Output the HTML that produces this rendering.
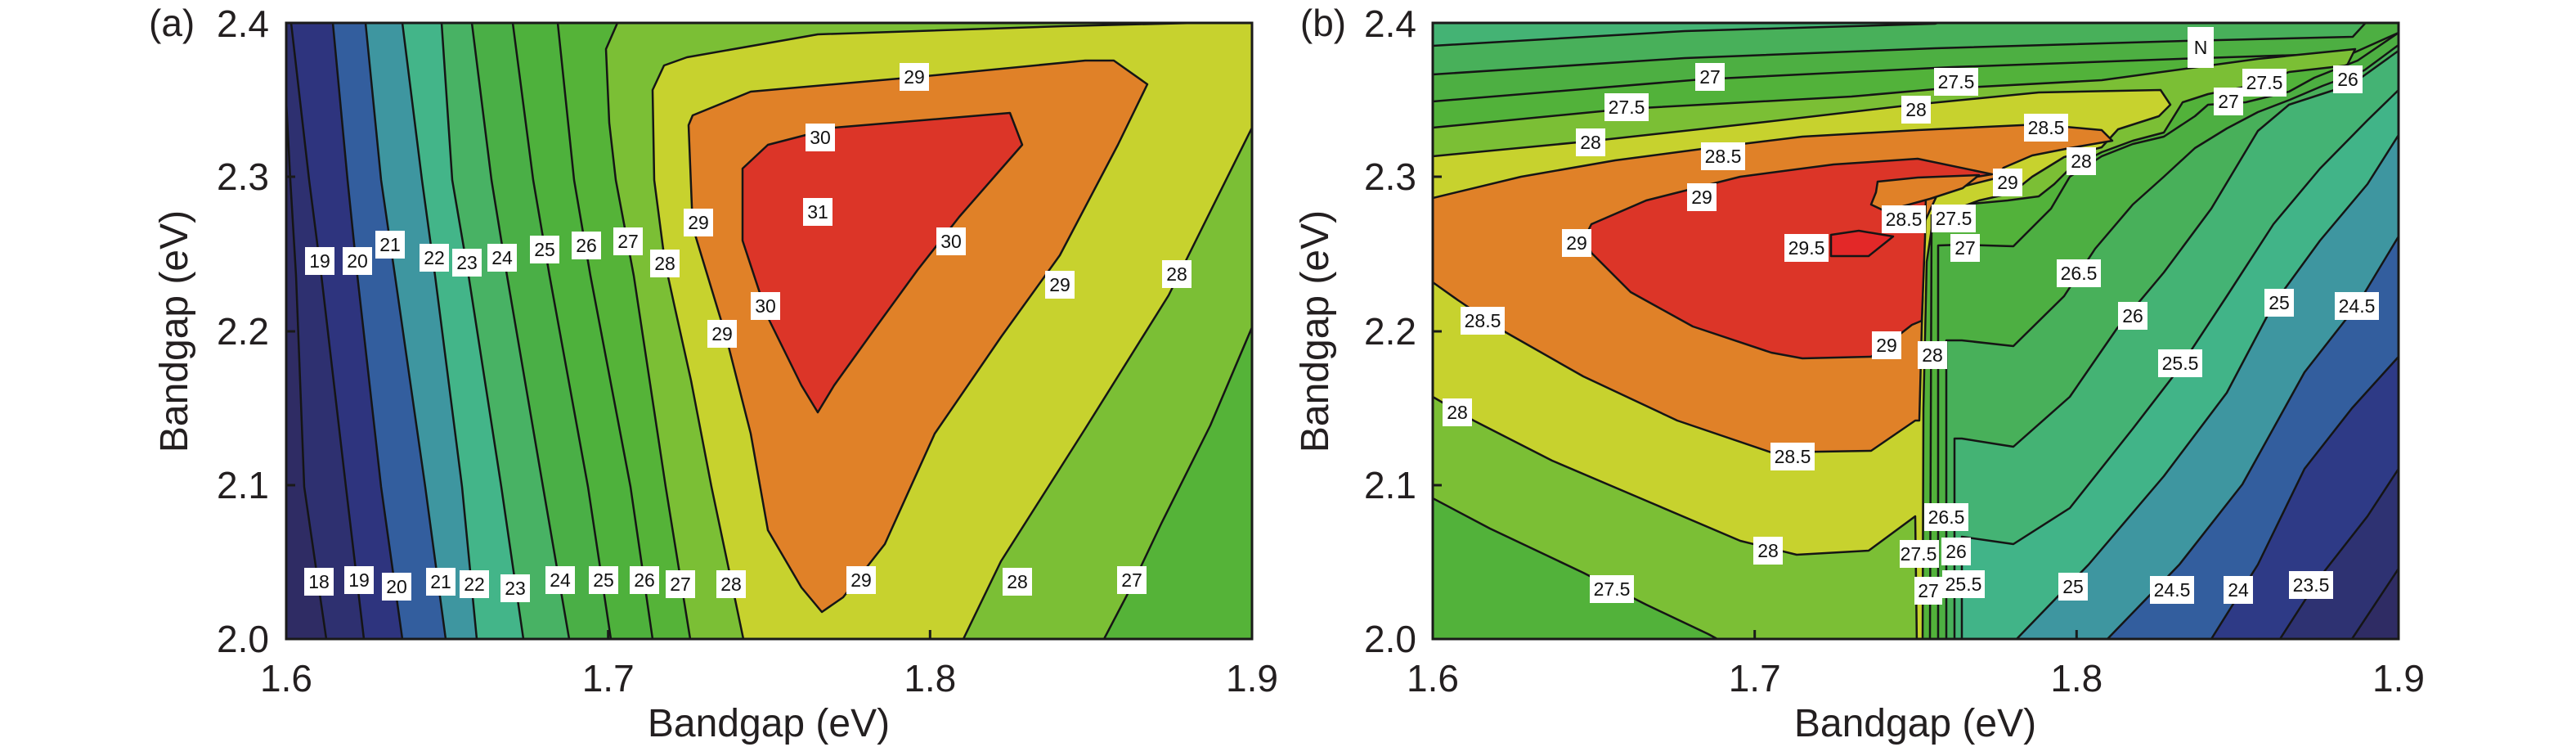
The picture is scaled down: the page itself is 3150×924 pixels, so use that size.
<!DOCTYPE html>
<html><head><meta charset="utf-8"><style>
html,body{margin:0;padding:0;background:#fff;}
svg{display:block;}
.t{font-family:"Liberation Sans",sans-serif;fill:#231f20;}
.lb rect{fill:#fff;}
.lb text{font-family:"Liberation Sans",sans-serif;font-size:23px;fill:#111;text-anchor:middle;}
.c{stroke:#151515;stroke-width:2.5;stroke-linejoin:round;}
</style></head><body>
<svg width="3150" height="924" viewBox="0 0 3150 924" xmlns="http://www.w3.org/2000/svg">
<defs>
<clipPath id="ca"><rect x="350" y="28" width="1181" height="753"/></clipPath>
<clipPath id="cb"><rect x="1752" y="28" width="1181" height="753"/></clipPath>
</defs>
<rect width="3150" height="924" fill="#fff"/>

<g clip-path="url(#ca)">
<rect x="350" y="28" width="1181" height="753" fill="#7bbf35"/>
<polygon class="c" fill="#55b338" points="340,28 755,28 741,60 745,150 753,220 775,337 814,595 844,781 340,781"/>
<polygon class="c" fill="#4eb13c" points="340,28 682,28 702,220 722,337 771,595 798,781 340,781"/>
<polygon class="c" fill="#4aaf46" points="340,28 627,28 652,220 672,337 719,595 747,781 340,781"/>
<polygon class="c" fill="#48b264" points="340,28 577,28 601,220 620,337 664,595 696,781 340,781"/>
<polygon class="c" fill="#43b589" points="340,28 540,28 553,220 573,337 613,595 640,781 340,781"/>
<polygon class="c" fill="#3e96a0" points="340,28 492,28 516,220 532,337 565,595 583,781 340,781"/>
<polygon class="c" fill="#335e9e" points="340,28 447,28 466,220 483,337 520,595 545,781 340,781"/>
<polygon class="c" fill="#2e347e" points="340,28 407,28 425,220 437,337 466,595 492,781 340,781"/>
<polygon class="c" fill="#2e3070" points="340,28 356,28 378,220 393,337 423,595 445,781 340,781"/>
<polygon class="c" fill="#2f2c64" points="340,28 345,28 355,220 362,337 372,595 399,781 340,781"/>
<polygon class="c" fill="#55b338" points="1541,400 1531,400 1480,520 1420,640 1383,718 1350,781 1541,790"/>
<polygon class="c" fill="#c7d22e" points="909,790 909,781 890,690 870,595 845,465 825,375 813,320 800,220 798,110 812,80 840,70 1000,42 1300,32 1541,26 1541,156 1531,156 1429,361 1327,524 1224,686 1178,781 1178,790"/>
<polygon class="c" fill="#e08128" points="847,141 918,112 1122,94 1327,74 1362,74 1403,103 1367,177 1296,312 1224,412 1143,530 1082,665 1031,730 1005,748 980,718 939,648 918,530 888,412 847,277 842,153"/>
<polygon class="c" fill="#dc3528" points="908,206 939,177 1020,156 1235,138 1250,177 1173,265 1122,330 1071,400 1020,471 1000,504 980,471 939,388 908,294"/>
</g>
<rect x="350" y="28" width="1181" height="753" fill="none" stroke="#1a1a1a" stroke-width="3"/>
<g stroke="#1a1a1a" stroke-width="3">
<line x1="743.7" y1="781" x2="743.7" y2="770"/><line x1="1137.3" y1="781" x2="1137.3" y2="770"/>
<line x1="350" y1="216" x2="361" y2="216"/><line x1="350" y1="405" x2="361" y2="405"/><line x1="350" y1="593" x2="361" y2="593"/>
</g>

<g clip-path="url(#cb)">
<rect x="1752" y="28" width="1181" height="753" fill="#52b23a"/>
<polygon class="c" fill="#4daf42" points="1742,20 1742,124 1752,124 2081,97 2387,82 2693,71 2877,65 2933,40 2943,20"/>
<polygon class="c" fill="#48b05a" points="1742,20 1742,91 1752,91 2060,71 2366,59 2672,50 2877,45 2900,20"/>
<polygon class="c" fill="#44b374" points="1742,20 1742,56 1752,56 2060,38 2366,29 2400,20"/>
<polygon class="c" fill="#7bbf35" points="1742,156 1752,156 1989,133 2264,118 2366,109 2570,98 2761,72 2880,60 2870,80 2799,88 2761,103 2700,115 2669,125 2646,162 2608,172 2570,186 2531,206 2512,225 2493,240 2455,245 2401,250 2365,262 2356,290 2352,400 2348,600 2348,790 2100,790 2100,781 2089,775 2013,739 1936,700 1822,646 1752,609 1742,609"/>
<polygon class="c" fill="#c7d22e" points="1742,191 1752,191 1950,172 2150,150 2340,128 2493,113 2642,110 2654,128 2640,142 2590,158 2570,180 2524,192 2485,216 2460,236 2420,245 2385,258 2362,280 2356,320 2352,500 2351,790 2344,790 2342,631 2285,673 2197,678 2128,661 2013,612 1898,563 1802,514 1752,485 1742,485"/>
<polygon class="c" fill="#e08128" points="1742,242 1752,242 1860,216 1975,196 2089,181 2204,167 2345,159 2493,152 2570,159 2583,172 2531,181 2485,190 2450,205 2440,218 2400,228 2368,240 2354,270 2350,400 2347,514 2342,514 2288,551 2166,553 2051,514 1936,460 1841,406 1783,367 1752,345 1742,345"/>
<polygon class="c" fill="#dc3528" points="1946,274 2013,245 2128,216 2242,201 2345,194 2436,213 2380,222 2355,240 2354,290 2350,392 2338,397 2288,436 2204,438 2166,431 2070,399 1994,357 1946,309 1938,290"/>
<polygon class="c" fill="#e08128" points="2296,222 2345,217 2420,214 2400,230 2360,243 2305,258 2288,250 2294,235"/>
<polygon class="c" fill="#e32828" points="2239,287 2273,282 2315,289 2285,313 2239,313"/>
<polygon class="c" fill="#4daf42" points="2370,790 2370,300 2399,299 2462,301 2508,255 2531,216 2570,191 2608,176 2646,167 2684,142 2700,128 2746,125 2799,112 2830,95 2883,74 2933,40 2943,40 2943,790"/>
<polygon class="c" fill="#48b05a" points="2380,790 2380,416 2399,416 2462,423 2524,362 2562,304 2608,250 2646,216 2684,181 2723,157 2761,137 2800,122 2840,105 2891,86 2933,55 2943,55 2943,790"/>
<polygon class="c" fill="#44b374" points="2390,790 2390,536 2399,536 2462,546 2531,485 2589,401 2646,333 2704,255 2761,160 2799,128 2876,103 2933,62 2943,62 2943,790"/>
<polygon class="c" fill="#41b488" points="2399,790 2399,656 2462,665 2531,621 2608,524 2665,450 2723,362 2780,274 2837,206 2895,147 2933,110 2943,110 2943,790"/>
<polygon class="c" fill="#3e96a0" points="2466,790 2466,781 2554,690 2646,582 2723,480 2780,372 2837,294 2895,225 2933,165 2943,165 2943,790"/>
<polygon class="c" fill="#335e9e" points="2577,790 2577,781 2665,690 2742,592 2818,455 2883,372 2933,289 2943,289 2943,790"/>
<polygon class="c" fill="#2e3a86" points="2704,790 2704,781 2761,690 2818,573 2876,499 2933,436 2943,436 2943,790"/>
<polygon class="c" fill="#2e3272" points="2788,790 2788,781 2837,705 2895,631 2933,573 2943,573 2943,790"/>
<polygon class="c" fill="#2f2c64" points="2876,790 2876,781 2933,695 2943,695 2943,790"/>
<line class="c" x1="2362" y1="262" x2="2360" y2="781"/>
</g>
<rect x="1752" y="28" width="1181" height="753" fill="none" stroke="#1a1a1a" stroke-width="3"/>
<g stroke="#1a1a1a" stroke-width="3">
<line x1="2145.7" y1="781" x2="2145.7" y2="770"/><line x1="2539.3" y1="781" x2="2539.3" y2="770"/>
<line x1="1752" y1="216" x2="1763" y2="216"/><line x1="1752" y1="405" x2="1763" y2="405"/><line x1="1752" y1="593" x2="1763" y2="593"/>
</g>

<g class="lb">
<rect x="1100" y="77" width="36" height="34"/><text x="1118" y="102">29</text>
<rect x="985" y="151" width="36" height="34"/><text x="1003" y="176">30</text>
<rect x="982" y="242" width="36" height="34"/><text x="1000" y="267">31</text>
<rect x="836" y="255" width="36" height="34"/><text x="854" y="280">29</text>
<rect x="1145" y="278" width="36" height="34"/><text x="1163" y="303">30</text>
<rect x="373" y="302" width="36" height="34"/><text x="391" y="327">19</text>
<rect x="419" y="302" width="36" height="34"/><text x="437" y="327">20</text>
<rect x="459" y="282" width="36" height="34"/><text x="477" y="307">21</text>
<rect x="513" y="298" width="36" height="34"/><text x="531" y="323">22</text>
<rect x="553" y="304" width="36" height="34"/><text x="571" y="329">23</text>
<rect x="596" y="298" width="36" height="34"/><text x="614" y="323">24</text>
<rect x="648" y="288" width="36" height="34"/><text x="666" y="313">25</text>
<rect x="699" y="283" width="36" height="34"/><text x="717" y="308">26</text>
<rect x="750" y="278" width="36" height="34"/><text x="768" y="303">27</text>
<rect x="795" y="305" width="36" height="34"/><text x="813" y="330">28</text>
<rect x="1421" y="318" width="36" height="34"/><text x="1439" y="343">28</text>
<rect x="1278" y="331" width="36" height="34"/><text x="1296" y="356">29</text>
<rect x="918" y="357" width="36" height="34"/><text x="936" y="382">30</text>
<rect x="865" y="391" width="36" height="34"/><text x="883" y="416">29</text>
<rect x="372" y="694" width="36" height="34"/><text x="390" y="719">18</text>
<rect x="421" y="692" width="36" height="34"/><text x="439" y="717">19</text>
<rect x="467" y="700" width="36" height="34"/><text x="485" y="725">20</text>
<rect x="521" y="694" width="36" height="34"/><text x="539" y="719">21</text>
<rect x="562" y="697" width="36" height="34"/><text x="580" y="722">22</text>
<rect x="612" y="702" width="36" height="34"/><text x="630" y="727">23</text>
<rect x="667" y="692" width="36" height="34"/><text x="685" y="717">24</text>
<rect x="720" y="692" width="36" height="34"/><text x="738" y="717">25</text>
<rect x="770" y="692" width="36" height="34"/><text x="788" y="717">26</text>
<rect x="814" y="697" width="36" height="34"/><text x="832" y="722">27</text>
<rect x="876" y="697" width="36" height="34"/><text x="894" y="722">28</text>
<rect x="1035" y="692" width="36" height="34"/><text x="1053" y="717">29</text>
<rect x="1226" y="694" width="36" height="34"/><text x="1244" y="719">28</text>
<rect x="1366" y="692" width="36" height="34"/><text x="1384" y="717">27</text>
</g>

<g class="lb">
<rect x="2073" y="77" width="36" height="34"/><text x="2091" y="102">27</text>
<rect x="2365" y="83" width="54" height="34"/><text x="2392" y="108">27.5</text>
<rect x="2675" y="33" width="32" height="50"/><text x="2691" y="66">N</text>
<rect x="1962" y="114" width="54" height="34"/><text x="1989" y="139">27.5</text>
<rect x="2325" y="117" width="36" height="34"/><text x="2343" y="142">28</text>
<rect x="2742" y="84" width="54" height="34"/><text x="2769" y="109">27.5</text>
<rect x="2707" y="107" width="36" height="34"/><text x="2725" y="132">27</text>
<rect x="2853" y="80" width="36" height="34"/><text x="2871" y="105">26</text>
<rect x="1927" y="157" width="36" height="34"/><text x="1945" y="182">28</text>
<rect x="2475" y="139" width="54" height="34"/><text x="2502" y="164">28.5</text>
<rect x="2080" y="174" width="54" height="34"/><text x="2107" y="199">28.5</text>
<rect x="2527" y="180" width="36" height="34"/><text x="2545" y="205">28</text>
<rect x="2437" y="206" width="36" height="34"/><text x="2455" y="231">29</text>
<rect x="2063" y="224" width="36" height="34"/><text x="2081" y="249">29</text>
<rect x="2301" y="251" width="54" height="34"/><text x="2328" y="276">28.5</text>
<rect x="2362" y="250" width="54" height="34"/><text x="2389" y="275">27.5</text>
<rect x="1910" y="280" width="36" height="34"/><text x="1928" y="305">29</text>
<rect x="2182" y="286" width="54" height="34"/><text x="2209" y="311">29.5</text>
<rect x="2385" y="286" width="36" height="34"/><text x="2403" y="311">27</text>
<rect x="2515" y="317" width="54" height="34"/><text x="2542" y="342">26.5</text>
<rect x="2769" y="353" width="36" height="34"/><text x="2787" y="378">25</text>
<rect x="2855" y="357" width="54" height="34"/><text x="2882" y="382">24.5</text>
<rect x="1786" y="375" width="54" height="34"/><text x="1813" y="400">28.5</text>
<rect x="2590" y="369" width="36" height="34"/><text x="2608" y="394">26</text>
<rect x="2289" y="405" width="36" height="34"/><text x="2307" y="430">29</text>
<rect x="2345" y="417" width="36" height="34"/><text x="2363" y="442">28</text>
<rect x="2639" y="427" width="54" height="34"/><text x="2666" y="452">25.5</text>
<rect x="1764" y="487" width="36" height="34"/><text x="1782" y="512">28</text>
<rect x="2165" y="541" width="54" height="34"/><text x="2192" y="566">28.5</text>
<rect x="2353" y="615" width="54" height="34"/><text x="2380" y="640">26.5</text>
<rect x="2144" y="656" width="36" height="34"/><text x="2162" y="681">28</text>
<rect x="2323" y="660" width="48" height="34"/><text x="2346" y="685">27.5</text>
<rect x="2374" y="657" width="36" height="34"/><text x="2392" y="682">26</text>
<rect x="1944" y="703" width="54" height="34"/><text x="1971" y="728">27.5</text>
<rect x="2341" y="705" width="34" height="34"/><text x="2358" y="730">27</text>
<rect x="2375" y="697" width="52" height="34"/><text x="2401" y="722">25.5</text>
<rect x="2517" y="700" width="36" height="34"/><text x="2535" y="725">25</text>
<rect x="2629" y="704" width="54" height="34"/><text x="2656" y="729">24.5</text>
<rect x="2719" y="704" width="36" height="34"/><text x="2737" y="729">24</text>
<rect x="2799" y="698" width="54" height="34"/><text x="2826" y="723">23.5</text>
</g>

<g class="t" font-size="46">
<text x="182" y="44">(a)</text>
<text x="329" y="45" text-anchor="end">2.4</text>
<text x="329" y="232" text-anchor="end">2.3</text>
<text x="329" y="421" text-anchor="end">2.2</text>
<text x="329" y="609" text-anchor="end">2.1</text>
<text x="329" y="797" text-anchor="end">2.0</text>
<text x="350" y="845" text-anchor="middle">1.6</text>
<text x="743.7" y="845" text-anchor="middle">1.7</text>
<text x="1137.3" y="845" text-anchor="middle">1.8</text>
<text x="1531" y="845" text-anchor="middle">1.9</text>
<text x="1618" y="44" text-anchor="middle">(b)</text>
<text x="1732" y="45" text-anchor="end">2.4</text>
<text x="1732" y="232" text-anchor="end">2.3</text>
<text x="1732" y="421" text-anchor="end">2.2</text>
<text x="1732" y="609" text-anchor="end">2.1</text>
<text x="1732" y="797" text-anchor="end">2.0</text>
<text x="1752" y="845" text-anchor="middle">1.6</text>
<text x="2145.7" y="845" text-anchor="middle">1.7</text>
<text x="2539.3" y="845" text-anchor="middle">1.8</text>
<text x="2933" y="845" text-anchor="middle">1.9</text>
</g>
<g class="t" font-size="48">
<text x="940" y="900" text-anchor="middle">Bandgap (eV)</text>
<text x="2342" y="900" text-anchor="middle">Bandgap (eV)</text>
<text transform="translate(229,405) rotate(-90)" text-anchor="middle">Bandgap (eV)</text>
<text transform="translate(1624,405) rotate(-90)" text-anchor="middle">Bandgap (eV)</text>
</g>
</svg>
</body></html>
